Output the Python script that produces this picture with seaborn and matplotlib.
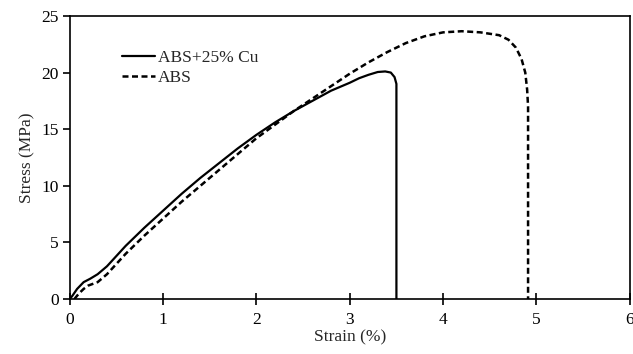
import pandas as pd
import seaborn as sns
import matplotlib.pyplot as plt

# Stress-strain data
cu_strain = [0.0, 0.03, 0.08, 0.15, 0.22, 0.3, 0.4, 0.5, 0.6, 0.8, 1.0, 1.2, 1.4, 1.6, 1.8, 2.0,
             2.2, 2.4, 2.6, 2.8, 3.0, 3.1, 3.2, 3.3, 3.38, 3.44, 3.48, 3.5, 3.5]
cu_stress = [0, 0.3, 0.9, 1.5, 1.8, 2.2, 2.9, 3.8, 4.7, 6.3, 7.8, 9.3, 10.7, 12.0, 13.3, 14.5,
             15.6, 16.6, 17.5, 18.4, 19.1, 19.5, 19.8, 20.05, 20.1, 20.0, 19.6, 19.0, 0]

abs_strain = [0.05, 0.1, 0.15, 0.2, 0.3, 0.4, 0.5, 0.6, 0.8, 1.0, 1.2, 1.4, 1.6, 1.8, 2.0, 2.2,
              2.4, 2.6, 2.8, 3.0, 3.2, 3.4, 3.6, 3.8, 4.0, 4.2, 4.4, 4.6, 4.7, 4.78, 4.84, 4.88,
              4.9, 4.91, 4.91]
abs_stress = [0, 0.5, 0.9, 1.2, 1.5, 2.2, 3.1, 4.0, 5.6, 7.1, 8.6, 10.0, 11.4, 12.8, 14.2, 15.4,
              16.6, 17.7, 18.8, 19.9, 20.9, 21.8, 22.6, 23.2, 23.55, 23.65, 23.55, 23.3, 22.9, 22.2,
              21.2, 20.0, 18.5, 17.0, 0]

df_cu = pd.DataFrame({"strain": cu_strain, "stress": cu_stress})
df_abs = pd.DataFrame({"strain": abs_strain, "stress": abs_stress})

sns.set_style("ticks")
plt.rcParams['font.family'] = ['Liberation Serif', 'DejaVu Serif']
plt.rcParams['font.size'] = 12.5

fig, ax = plt.subplots(figsize=(6.33, 3.54), dpi=100)
sns.lineplot(data=df_cu, x="strain", y="stress", sort=False, estimator=None, color="black",
             linewidth=1.6, label="ABS+25% Cu", ax=ax)
sns.lineplot(data=df_abs, x="strain", y="stress", sort=False, estimator=None, color="black",
             linewidth=1.8, linestyle=(0, (2.4, 1.4)), label="ABS", ax=ax)

ax.set_xlim(0, 6)
ax.set_ylim(0, 25)
ax.set_xticks(range(0, 7))
ax.set_yticks(range(0, 26, 5))
ax.set_xlabel("Strain (%)", labelpad=1)
ax.set_ylabel("Stress (MPa)", labelpad=4)

for side in ["top", "right", "left", "bottom"]:
    ax.spines[side].set_visible(True)
    ax.spines[side].set_linewidth(1.2)
    ax.spines[side].set_color("black")
ax.tick_params(axis="x", direction="inout", length=8, width=1.2, colors="black", pad=5)
ax.tick_params(axis="y", direction="out", length=5, width=1.2, colors="black", pad=3)

ax.legend(loc="upper left", bbox_to_anchor=(0.094, 0.879), frameon=False,
          handlelength=1.9, handletextpad=0.15, labelspacing=0.2, borderaxespad=0,
          borderpad=0)

plt.subplots_adjust(left=0.11, right=0.995, top=0.955, bottom=0.155)
plt.savefig("out.png", dpi=100)
